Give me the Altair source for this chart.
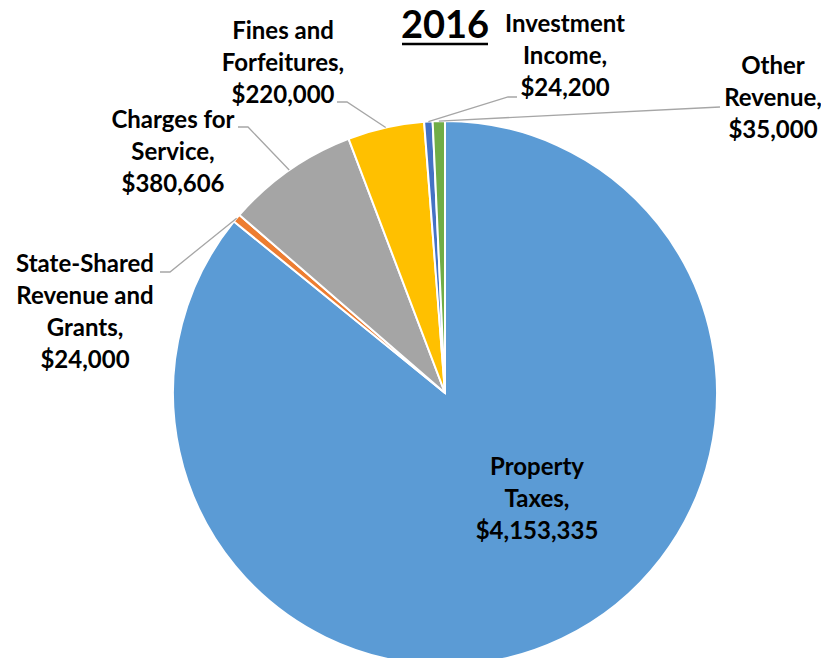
import math
import altair as alt
import pandas as pd

# ---- data ----
categories = ["Property Taxes", "State-Shared Revenue and Grants", "Charges for Service",
              "Fines and Forfeitures", "Investment Income", "Other Revenue"]
values = [4153335, 24000, 380606, 220000, 24200, 35000]
label_lines = [["Property", "Taxes,"], ["State-Shared", "Revenue and", "Grants,"],
               ["Charges for", "Service,"], ["Fines and", "Forfeitures,"],
               ["Investment", "Income,"], ["Other", "Revenue,"]]
colors = ["#5B9BD5", "#ED7D31", "#A5A5A5", "#FFC000", "#4472C4", "#70AD47"]
title_text = "2016"

# ---- layout (chart pixel coordinates) ----
W, H = 813, 650
CX, CY, R = 437, 385, 272
FONT = "Lato"
label_pos = [(529, 460), (77, 257), (165, 113), (275, 24), (557, 17), (765, 59)]
leader_bends = [[], [(162, 264), (152, 264)], [(240, 119), (230, 119)],
                [(339, 94), (329, 94)], [(500, 89), (509, 89)], [(712, 99)]]

total = sum(values)
pie_df = pd.DataFrame({"category": categories, "value": values, "idx": range(len(values))})

lab_rows, line_rows = [], []
cum = 0
for i, (cat, v) in enumerate(zip(categories, values)):
    mid = 2 * math.pi * (cum + v / 2) / total
    cum += v
    text = "\n".join(label_lines[i] + ["${:,}".format(v)])
    lab_rows.append({"category": cat, "text": text, "px": label_pos[i][0], "py": label_pos[i][1]})
    if leader_bends[i]:
        pts = [(CX + R * math.sin(mid), CY - R * math.cos(mid))] + leader_bends[i]
        for j, (x, y) in enumerate(pts):
            line_rows.append({"category": cat, "seq": j, "px": x, "py": y})
lab_df = pd.DataFrame(lab_rows)
line_df = pd.DataFrame(line_rows)

pie = alt.Chart(pie_df).mark_arc(outerRadius=R, stroke="white", strokeWidth=2).encode(
    theta=alt.Theta("value:Q", stack=True),
    color=alt.Color("category:N", scale=alt.Scale(domain=categories, range=colors), legend=None),
    order=alt.Order("idx:Q"),
    x=alt.value(CX), y=alt.value(CY),
)

leaders = alt.Chart(line_df).mark_line(color="#A6A6A6", strokeWidth=1.3).encode(
    x=alt.X("px:Q", scale=None, axis=None),
    y=alt.Y("py:Q", scale=None, axis=None),
    detail="category:N",
    order="seq:Q",
)

labels = alt.Chart(lab_df).mark_text(
    font=FONT, fontSize=24, fontWeight="bold", color="black",
    lineBreak="\n", lineHeight=32, align="center", baseline="middle",
).encode(
    x=alt.X("px:Q", scale=None, axis=None),
    y=alt.Y("py:Q", scale=None, axis=None),
    text="text:N",
)

title = alt.Chart(pd.DataFrame({"t": [title_text]})).mark_text(
    font=FONT, fontSize=38, fontWeight="bold", color="black", align="center", baseline="middle",
).encode(x=alt.value(437), y=alt.value(18.5), text="t:N")

underline = alt.Chart(pd.DataFrame({"t": [title_text]})).mark_rule(color="black", strokeWidth=2.5).encode(
    x=alt.value(394), x2=alt.value(480), y=alt.value(36),
)

chart = alt.layer(pie, leaders, labels, title, underline).properties(
    width=W, height=H, autosize="none", padding=0,
).configure_view(stroke=None)

chart.save("out.html", embed_options={"renderer": "svg", "actions": False})
